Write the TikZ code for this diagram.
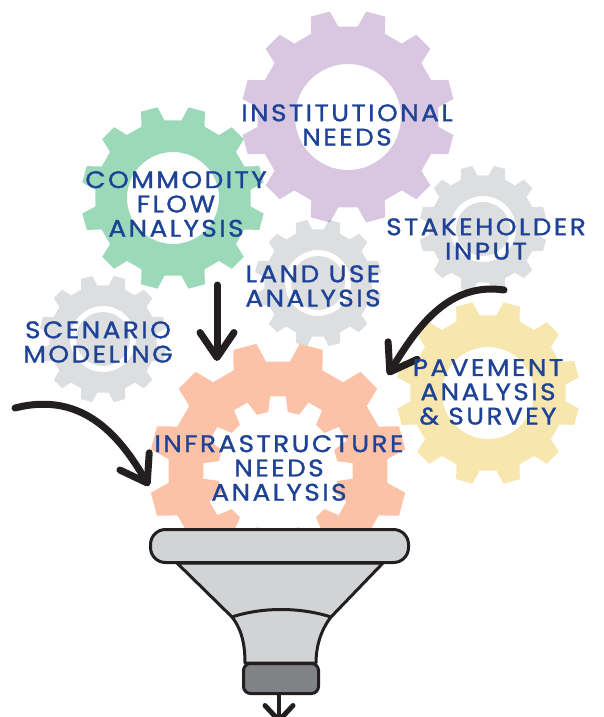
\documentclass[tikz,border=0pt]{standalone}
\usepackage{xcolor}
\usepackage{fontspec}
\usepackage{tikz}
\usetikzlibrary{arrows.meta, positioning}
\newfontfamily\gearfont[LetterSpace=10,FakeBold=1.1,FakeStretch=1.1]{Poppins}
\definecolor{gearpurple}{HTML}{D9C7E2}
\definecolor{geargreen}{HTML}{9BD9B8}
\definecolor{geargray}{HTML}{DCDEE0}
\definecolor{gearyellow}{HTML}{F7E6AE}
\definecolor{gearorange}{HTML}{FBC2A7}
\definecolor{labelblue}{HTML}{1D4296}
\definecolor{inkblack}{HTML}{231F20}
\definecolor{funnelgray}{HTML}{D1D3D4}
\definecolor{spoutgray}{HTML}{808285}
\tikzset{gear/.style={even odd rule, draw=none, fill=#1},
         gearlabel/.style={text=labelblue, align=center, inner sep=0pt,
                    font=\gearfont\fontsize{24}{24.3}\selectfont},
         bigarrow/.style={draw=inkblack, line width=7pt, line cap=round,
                    -{Straight Barb[length=25pt, width=34pt, line width=7pt, round]}}}
% one toothed outline: offset, tip radius, root radius, tip half angle, root half angle
\newcommand{\toothring}[5]{(#1-#5:#3) foreach \a in {0,30,...,330} {
    -- (#1+\a-#5:#3) -- (#1+\a-#4:#2) -- (#1+\a+#4:#2) -- (#1+\a+#5:#3)} -- cycle}

\begin{document}
\begin{tikzpicture}[x=1pt, y=-1pt]
  \clip (0,0) rectangle (603,717);
  % gears
  \fill[gear=gearpurple, shift={(348,117)}] \toothring{15}{107}{91}{5.3}{8.8} (0,0) circle[radius=53];
  \fill[gear=geargreen, shift={(173,198)}, blend mode=multiply] \toothring{15}{92}{78}{5.3}{8.8} (0,0) circle[radius=46];
  \fill[gear=geargray, shift={(318,283)}, blend mode=multiply] \toothring{15}{64}{54}{5.3}{8.8} (0,0) circle[radius=33] (0,0) circle[radius=27];
  \fill[gear=geargray, shift={(483,229)}, blend mode=multiply] \toothring{15}{64}{54}{5.3}{8.8} (0,0) circle[radius=33] (0,0) circle[radius=27];
  \fill[gear=geargray, shift={(103,339)}] \toothring{15}{64}{54}{5.3}{8.8} (0,0) circle[radius=33] (0,0) circle[radius=27];
  \fill[gear=gearyellow, shift={(488,393)}] \toothring{15}{92}{78}{5.3}{8.8} (0,0) circle[radius=46];
  \fill[gear=gearorange, shift={(278,471)}] \toothring{15}{129}{110}{5.3}{8.8} \toothring{0}{75}{60}{6}{9.4};
  % funnel
  \filldraw[fill=funnelgray, draw=inkblack, line width=3pt, line join=round]
     (177,563) -- (232,617) .. controls (243,631) and (245,648) .. (245,663)
     -- (316,663) .. controls (316,648) and (320,631) .. (331,617) -- (383,563) -- cycle;
  \draw[inkblack, line width=3pt] (232,617) .. controls (262,607) and (300,607) .. (331,617);
  \node[draw=inkblack, fill=funnelgray, line width=3pt, rounded corners=15pt, inner sep=0pt,
        minimum width=258pt, minimum height=33pt] (rim) at (279.5,546) {};
  \node[draw=inkblack, fill=spoutgray, line width=3pt, rounded corners=7pt, inner sep=0pt,
        minimum width=75pt, minimum height=30pt] (spout) at (281,678.5) {};
  % arrows
  \coordinate (outlet) at (279,723);
  \draw[inkblack, line width=3.5pt, -{Straight Barb[length=15pt, width=28pt, line width=5pt, round]}] (spout.south -| outlet) -- (outlet);
  \coordinate (greentail) at (217,285);
  \coordinate (greentip) at (217,361);
  \draw[bigarrow] (greentail) -- (greentip);
  \coordinate (lefttail) at (15,408);
  \coordinate (lefttip) at (149,486);
  \draw[bigarrow] (lefttail) .. controls (85,390) and (122,440) .. (lefttip);
  \coordinate (righttail) at (504,290);
  \coordinate (righttip) at (388,375);
  \draw[bigarrow] (righttail) .. controls (450,282) and (418,325) .. (righttip);
  % labels
  \node[gearlabel] (institutional) at (347,125) {INSTITUTIONAL\\NEEDS};
  \node[gearlabel] (commodity) at (176,204) {COMMODITY\\FLOW\\ANALYSIS};
  \node[gearlabel] (scenario) at (98,342) {SCENARIO\\MODELING};
  \node[gearlabel] (landuse) at (313,286) {LAND USE\\ANALYSIS};
  \node[gearlabel] (stakeholder) at (486,239) {STAKEHOLDER\\INPUT};
  \node[gearlabel] (pavement) at (488,392) {PAVEMENT\\ANALYSIS\\\& SURVEY};
  \node[gearlabel] (infrastructure) at (279,468) {INFRASTRUCTURE\\NEEDS\\ANALYSIS};
\end{tikzpicture}
\end{document}
